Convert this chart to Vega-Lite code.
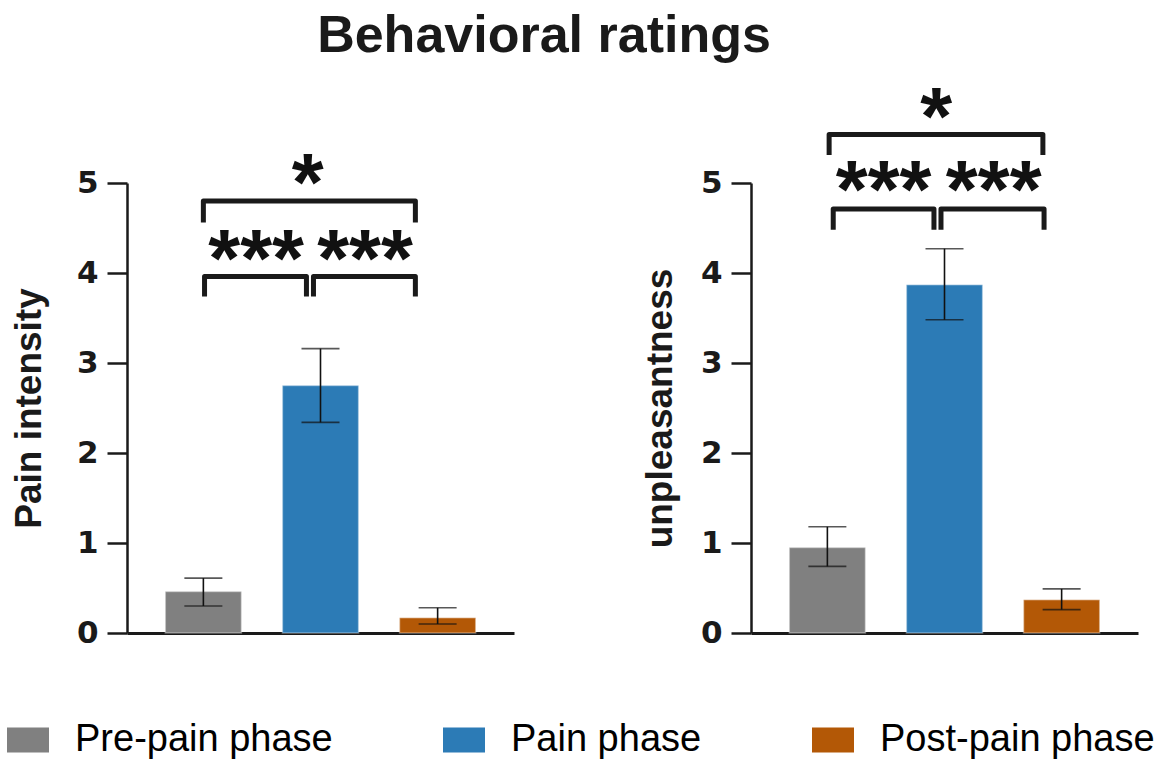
{
  "$schema": "https://vega.github.io/schema/vega-lite/v6.json",
  "background": "white",
  "padding": {"left": 7, "top": 10, "right": 0, "bottom": 0},
  "title": {"text": "Behavioral ratings", "anchor": "middle", "fontSize": 52, "font": "Liberation Sans", "fontWeight": "bold", "color": "#1a1a1a", "offset": 15, "dx": -37},
  "datasets": {
    "bars": [
      {"measure": "Pain intensity", "phase": "Pre-pain phase", "mean": 0.46, "lo": 0.30, "hi": 0.61},
      {"measure": "Pain intensity", "phase": "Pain phase", "mean": 2.75, "lo": 2.34, "hi": 3.16},
      {"measure": "Pain intensity", "phase": "Post-pain phase", "mean": 0.17, "lo": 0.10, "hi": 0.28},
      {"measure": "unpleasantness", "phase": "Pre-pain phase", "mean": 0.95, "lo": 0.74, "hi": 1.18},
      {"measure": "unpleasantness", "phase": "Pain phase", "mean": 3.87, "lo": 3.48, "hi": 4.27},
      {"measure": "unpleasantness", "phase": "Post-pain phase", "mean": 0.37, "lo": 0.26, "hi": 0.49}
    ],
    "brackets": [
      {"measure": "Pain intensity", "id": "all", "o": 1, "bx": 0.0, "by": 4.56},
      {"measure": "Pain intensity", "id": "all", "o": 2, "bx": 0.0, "by": 4.80},
      {"measure": "Pain intensity", "id": "all", "o": 3, "bx": 1.81, "by": 4.80},
      {"measure": "Pain intensity", "id": "all", "o": 4, "bx": 1.81, "by": 4.56},
      {"measure": "Pain intensity", "id": "pre", "o": 1, "bx": 0.01, "by": 3.74},
      {"measure": "Pain intensity", "id": "pre", "o": 2, "bx": 0.01, "by": 3.96},
      {"measure": "Pain intensity", "id": "pre", "o": 3, "bx": 0.88, "by": 3.96},
      {"measure": "Pain intensity", "id": "pre", "o": 4, "bx": 0.88, "by": 3.74},
      {"measure": "Pain intensity", "id": "post", "o": 1, "bx": 0.94, "by": 3.74},
      {"measure": "Pain intensity", "id": "post", "o": 2, "bx": 0.94, "by": 3.96},
      {"measure": "Pain intensity", "id": "post", "o": 3, "bx": 1.81, "by": 3.96},
      {"measure": "Pain intensity", "id": "post", "o": 4, "bx": 1.81, "by": 3.74},
      {"measure": "unpleasantness", "id": "all", "o": 1, "bx": 0.015, "by": 5.31},
      {"measure": "unpleasantness", "id": "all", "o": 2, "bx": 0.015, "by": 5.54},
      {"measure": "unpleasantness", "id": "all", "o": 3, "bx": 1.84, "by": 5.54},
      {"measure": "unpleasantness", "id": "all", "o": 4, "bx": 1.84, "by": 5.31},
      {"measure": "unpleasantness", "id": "pre", "o": 1, "bx": 0.05, "by": 4.48},
      {"measure": "unpleasantness", "id": "pre", "o": 2, "bx": 0.05, "by": 4.71},
      {"measure": "unpleasantness", "id": "pre", "o": 3, "bx": 0.91, "by": 4.71},
      {"measure": "unpleasantness", "id": "pre", "o": 4, "bx": 0.91, "by": 4.48},
      {"measure": "unpleasantness", "id": "post", "o": 1, "bx": 0.97, "by": 4.48},
      {"measure": "unpleasantness", "id": "post", "o": 2, "bx": 0.97, "by": 4.71},
      {"measure": "unpleasantness", "id": "post", "o": 3, "bx": 1.85, "by": 4.71},
      {"measure": "unpleasantness", "id": "post", "o": 4, "bx": 1.85, "by": 4.48}
    ],
    "stars": [
      {"measure": "Pain intensity", "label": "*", "sx": 0.89, "sy": 5.11},
      {"measure": "Pain intensity", "label": "***", "sx": 0.45, "sy": 4.27},
      {"measure": "Pain intensity", "label": "***", "sx": 1.38, "sy": 4.27},
      {"measure": "unpleasantness", "label": "*", "sx": 0.93, "sy": 5.84},
      {"measure": "unpleasantness", "label": "***", "sx": 0.48, "sy": 5.03},
      {"measure": "unpleasantness", "label": "***", "sx": 1.42, "sy": 5.03}
    ]
  },
  "spacing": 127,
  "hconcat": [
    {
      "width": 387, "height": 450,
      "layer": [
        {
          "data": {"name": "bars"},
          "transform": [{"filter": "datum.measure === 'Pain intensity'"}],
          "layer": [
            {
              "mark": {"type": "bar", "stroke": "white", "strokeWidth": 1.5, "strokeOpacity": 0.35},
              "encoding": {
                "x": {"field": "phase", "type": "nominal", "sort": ["Pre-pain phase", "Pain phase", "Post-pain phase"], "scale": {"paddingInner": 0.35, "paddingOuter": 0.327}, "axis": {"title": null, "labels": false, "ticks": false}},
                "y": {"field": "mean", "type": "quantitative", "scale": {"domain": [0, 5], "nice": false}, "title": "Pain intensity", "axis": {"titlePadding": 28}},
                "color": {"field": "phase", "type": "nominal", "scale": {"domain": ["Pre-pain phase", "Pain phase", "Post-pain phase"], "range": ["#808080", "#2c7bb6", "#b35806"]}}
              }
            },
            {
              "mark": {"type": "rule", "color": "#111111", "strokeWidth": 1.6},
              "encoding": {
                "x": {"field": "phase", "type": "nominal", "sort": ["Pre-pain phase", "Pain phase", "Post-pain phase"], "axis": {"title": null, "labels": false, "ticks": false}},
                "y": {"field": "lo", "type": "quantitative", "title": "Pain intensity", "axis": {"titlePadding": 28}},
                "y2": {"field": "hi"}
              }
            },
            {
              "mark": {"type": "tick", "color": "#111111", "thickness": 1.6, "size": 38, "orient": "horizontal"},
              "encoding": {
                "x": {"field": "phase", "type": "nominal", "sort": ["Pre-pain phase", "Pain phase", "Post-pain phase"], "axis": {"title": null, "labels": false, "ticks": false}},
                "y": {"field": "lo", "type": "quantitative", "title": "Pain intensity", "axis": {"titlePadding": 28}}
              }
            },
            {
              "mark": {"type": "tick", "color": "#111111", "thickness": 1.6, "size": 38, "orient": "horizontal"},
              "encoding": {
                "x": {"field": "phase", "type": "nominal", "sort": ["Pre-pain phase", "Pain phase", "Post-pain phase"], "axis": {"title": null, "labels": false, "ticks": false}},
                "y": {"field": "hi", "type": "quantitative", "title": "Pain intensity", "axis": {"titlePadding": 28}}
              }
            }
          ]
        },
        {
          "layer": [
            {
              "data": {"name": "brackets"},
              "transform": [{"filter": "datum.measure === 'Pain intensity'"}],
              "mark": {"type": "line", "color": "#1a1a1a", "strokeWidth": 5, "strokeJoin": "round", "strokeCap": "butt"},
              "encoding": {
                "x": {"field": "bx", "type": "quantitative", "scale": {"domain": [-0.652, 2.652], "nice": false, "zero": false}, "axis": null},
                "y": {"field": "by", "type": "quantitative", "title": "Pain intensity", "axis": {"titlePadding": 28}},
                "detail": {"field": "id"},
                "order": {"field": "o"}
              }
            },
            {
              "data": {"name": "stars"},
              "transform": [{"filter": "datum.measure === 'Pain intensity'"}],
              "mark": {"type": "text", "font": "Liberation Sans", "fontWeight": "bold", "fontSize": 82, "baseline": "alphabetic", "align": "center", "dy": 37, "color": "#111111"},
              "encoding": {
                "x": {"field": "sx", "type": "quantitative", "scale": {"domain": [-0.652, 2.652], "nice": false, "zero": false}, "axis": null},
                "y": {"field": "sy", "type": "quantitative", "title": "Pain intensity", "axis": {"titlePadding": 28}},
                "text": {"field": "label"}
              }
            }
          ]
        }
      ],
      "resolve": {"scale": {"x": "independent"}}
    },
    {
      "width": 387, "height": 450,
      "layer": [
        {
          "data": {"name": "bars"},
          "transform": [{"filter": "datum.measure === 'unpleasantness'"}],
          "layer": [
            {
              "mark": {"type": "bar", "stroke": "white", "strokeWidth": 1.5, "strokeOpacity": 0.35},
              "encoding": {
                "x": {"field": "phase", "type": "nominal", "sort": ["Pre-pain phase", "Pain phase", "Post-pain phase"], "scale": {"paddingInner": 0.35, "paddingOuter": 0.327}, "axis": {"title": null, "labels": false, "ticks": false}},
                "y": {"field": "mean", "type": "quantitative", "scale": {"domain": [0, 5], "nice": false}, "title": "unpleasantness", "axis": {"titlePadding": 21}},
                "color": {"field": "phase", "type": "nominal", "scale": {"domain": ["Pre-pain phase", "Pain phase", "Post-pain phase"], "range": ["#808080", "#2c7bb6", "#b35806"]}}
              }
            },
            {
              "mark": {"type": "rule", "color": "#111111", "strokeWidth": 1.6},
              "encoding": {
                "x": {"field": "phase", "type": "nominal", "sort": ["Pre-pain phase", "Pain phase", "Post-pain phase"], "axis": {"title": null, "labels": false, "ticks": false}},
                "y": {"field": "lo", "type": "quantitative", "title": "unpleasantness", "axis": {"titlePadding": 21}},
                "y2": {"field": "hi"}
              }
            },
            {
              "mark": {"type": "tick", "color": "#111111", "thickness": 1.6, "size": 38, "orient": "horizontal"},
              "encoding": {
                "x": {"field": "phase", "type": "nominal", "sort": ["Pre-pain phase", "Pain phase", "Post-pain phase"], "axis": {"title": null, "labels": false, "ticks": false}},
                "y": {"field": "lo", "type": "quantitative", "title": "unpleasantness", "axis": {"titlePadding": 21}}
              }
            },
            {
              "mark": {"type": "tick", "color": "#111111", "thickness": 1.6, "size": 38, "orient": "horizontal"},
              "encoding": {
                "x": {"field": "phase", "type": "nominal", "sort": ["Pre-pain phase", "Pain phase", "Post-pain phase"], "axis": {"title": null, "labels": false, "ticks": false}},
                "y": {"field": "hi", "type": "quantitative", "title": "unpleasantness", "axis": {"titlePadding": 21}}
              }
            }
          ]
        },
        {
          "layer": [
            {
              "data": {"name": "brackets"},
              "transform": [{"filter": "datum.measure === 'unpleasantness'"}],
              "mark": {"type": "line", "color": "#1a1a1a", "strokeWidth": 5, "strokeJoin": "round", "strokeCap": "butt"},
              "encoding": {
                "x": {"field": "bx", "type": "quantitative", "scale": {"domain": [-0.652, 2.652], "nice": false, "zero": false}, "axis": null},
                "y": {"field": "by", "type": "quantitative", "title": "unpleasantness", "axis": {"titlePadding": 21}},
                "detail": {"field": "id"},
                "order": {"field": "o"}
              }
            },
            {
              "data": {"name": "stars"},
              "transform": [{"filter": "datum.measure === 'unpleasantness'"}],
              "mark": {"type": "text", "font": "Liberation Sans", "fontWeight": "bold", "fontSize": 82, "baseline": "alphabetic", "align": "center", "dy": 37, "color": "#111111"},
              "encoding": {
                "x": {"field": "sx", "type": "quantitative", "scale": {"domain": [-0.652, 2.652], "nice": false, "zero": false}, "axis": null},
                "y": {"field": "sy", "type": "quantitative", "title": "unpleasantness", "axis": {"titlePadding": 21}},
                "text": {"field": "label"}
              }
            }
          ]
        }
      ],
      "resolve": {"scale": {"x": "independent"}}
    }
  ],
  "resolve": {"scale": {"color": "shared"}, "legend": {"color": "shared"}},
  "config": {
    "view": {"stroke": null},
    "axis": {"grid": false, "domainColor": "#1a1a1a", "tickColor": "#1a1a1a", "labelColor": "#1a1a1a", "titleColor": "#1a1a1a"},
    "axisX": {"domainWidth": 3},
    "axisY": {"domainWidth": 2.5, "tickWidth": 2.5, "tickSize": 20, "tickCount": 5, "labelFont": "DejaVu Sans", "labelFontWeight": "bold", "labelFontSize": 31, "labelPadding": 9, "titleFont": "Liberation Sans", "titleFontWeight": "bold", "titleFontSize": 37},
    "legend": {"orient": "none", "legendX": -120, "legendY": 536, "direction": "horizontal", "title": null, "symbolType": "M-1,-0.6H1V0.6H-1Z", "symbolSize": 1764, "symbolStrokeWidth": 0, "symbolOpacity": 1, "labelFont": "Liberation Sans", "labelFontSize": 38, "labelColor": "#000000", "labelOffset": 26, "columnPadding": 110, "labelLimit": 400}
  }
}
